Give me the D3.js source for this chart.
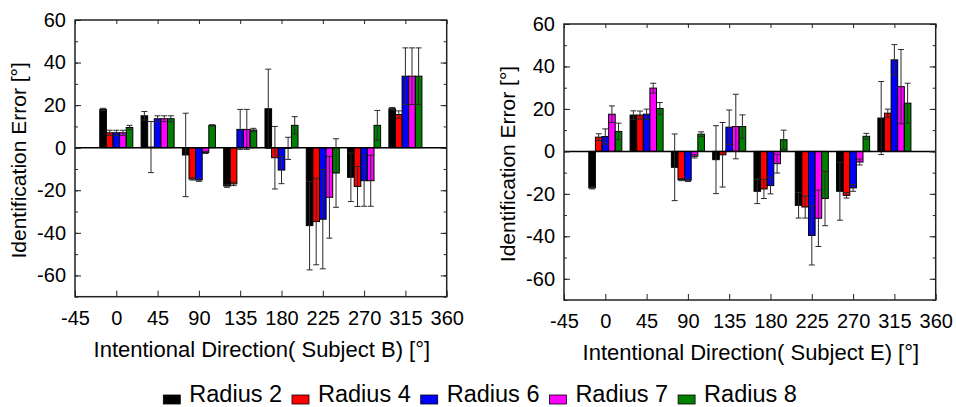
<!DOCTYPE html>
<html>
<head>
<meta charset="utf-8">
<script src="https://cdn.jsdelivr.net/npm/d3@7"></script>
<style>
  html, body { margin: 0; padding: 0; background: #fff; }
  svg { display: block; font-family: "Liberation Sans", Arial, sans-serif; }
</style>
</head>
<body>
<svg id="chart" width="956" height="407"></svg>
<script>
// Intentional directions (degrees) and series
const directions = [0, 45, 90, 135, 180, 225, 270, 315];
const seriesNames = ["Radius 2", "Radius 4", "Radius 6", "Radius 7", "Radius 8"];
const seriesColors = ["#000000", "#ff0000", "#0000ff", "#ff00ff", "#008000"];
const xTickValues = [-45, 0, 45, 90, 135, 180, 225, 270, 315, 360];
const yTickValues = [-60, -40, -20, 0, 20, 40, 60];

// Subject B: mean identification error and error-bar half widths
const bR2 = [18, 15, -3.4, -18, 18.3, -36.6, -13.9, 18.3];
const bR4 = [7, 0.3, -14.7, -17, -4.7, -34.7, -18.2, 15.6];
const bR6 = [7, 13.6, -15.2, 8.6, -10.5, -33.6, -15.5, 33.6];
const bR7 = [7, 13.6, -2.2, 8.6, -0.3, -23.3, -15.5, 33.6];
const bR8 = [9.5, 13.6, 10.5, 8.3, 10.5, -11.9, 10.5, 33.6];
const bR2err = [0.5, 2, 19.6, 0.6, 18.6, 20.8, 11.4, 0.6];
const bR4err = [1.2, 12, 0.5, 0.8, 14.7, 20.3, 9.4, 1.7];
const bR6err = [1.2, 1.4, 0.6, 9.4, 6.4, 23.3, 12, 13.3];
const bR7err = [1.2, 1.4, 0.5, 9.4, 5.2, 19.2, 12, 13.3];
const bR8err = [1, 1.4, 0.3, 0.8, 4.1, 16.1, 7, 13.3];

// Subject E
const eR2 = [-17.2, 17.1, -7.5, -3.9, -18.8, -25.4, -18.8, 15.7];
const eR4 = [6.7, 17.1, -13.3, -1.6, -17.7, -26.2, -20.7, 18];
const eR6 = [7, 17.5, -13.6, 11.4, -16.1, -39.6, -17.2, 43.1];
const eR7 = [17.5, 29.8, -2.3, 11.7, -5.8, -31.5, -5, 30.5];
const eR8 = [9.4, 20.2, 8.1, 11.7, 5.5, -22.2, 7.1, 22.7];
const eR2err = [0.5, 2, 15.7, 16, 5.8, 6, 13.6, 17.2];
const eR4err = [1.6, 1.9, 0.5, 15.2, 4.5, 5.2, 1.3, 1.9];
const eR6err = [3.6, 2.4, 0.6, 8.1, 3.9, 13.9, 1.6, 7.2];
const eR7err = [3.9, 2.3, 0.8, 15.2, 4.4, 13.3, 1.4, 17.5];
const eR8err = [3.9, 2.8, 1.1, 5.5, 4.5, 12.8, 1.4, 9.4];

const svg = d3.select("#chart");
const plainNumber = d => String(d);   // hyphen-minus, as on the original axes

function drawPanel(opts) {
  const { left, top, width, height, means, errs, xTitle } = opts;
  const g = svg.append("g").attr("transform", `translate(${left},${top})`);

  const x = d3.scaleLinear().domain([-45, 360]).range([0, width]);
  const y = d3.scaleLinear().domain([-70, 60]).range([height, 0]);

  const groupW = (x(45) - x(0)) * 0.8;
  const inner = d3.scaleBand().domain(d3.range(seriesNames.length))
    .range([-groupW / 2, groupW / 2]).padding(0);

  // bars
  means.forEach((vals, s) => {
    g.append("g").selectAll("rect").data(vals).join("rect")
      .attr("x", (d, i) => x(directions[i]) + inner(s))
      .attr("width", inner.bandwidth())
      .attr("y", d => Math.min(y(d), y(0)))
      .attr("height", d => Math.abs(y(d) - y(0)))
      .attr("fill", seriesColors[s])
      .attr("stroke", "#000")
      .attr("stroke-width", 1);
  });

  // error bars
  const capW = inner.bandwidth() * 0.9;
  means.forEach((vals, s) => {
    const eg = g.append("g").attr("stroke", "#2a2a2a").attr("stroke-width", 1).attr("fill", "none");
    vals.forEach((d, i) => {
      const cx = x(directions[i]) + inner(s) + inner.bandwidth() / 2;
      const e = errs[s][i];
      eg.append("line").attr("x1", cx).attr("x2", cx).attr("y1", y(d - e)).attr("y2", y(d + e));
      eg.append("line").attr("x1", cx - capW / 2).attr("x2", cx + capW / 2).attr("y1", y(d + e)).attr("y2", y(d + e));
      eg.append("line").attr("x1", cx - capW / 2).attr("x2", cx + capW / 2).attr("y1", y(d - e)).attr("y2", y(d - e));
    });
  });

  // zero line
  g.append("line").attr("x1", 0).attr("x2", width).attr("y1", y(0)).attr("y2", y(0))
    .attr("stroke", "#000").attr("stroke-width", 1.5);

  // axes with inward ticks on all four sides
  const yMinor = d3.range(-70, 61, 10);
  const axisStyle = sel => {
    sel.select(".domain").remove();
    sel.selectAll(".tick line").attr("stroke", "#222").attr("stroke-width", 1);
  };
  const labelStyle = a => a.selectAll("text").attr("font-size", 20).attr("fill", "#000")
    .attr("font-family", "Liberation Sans, Arial, sans-serif");
  g.append("g").call(d3.axisLeft(y).tickValues(yMinor).tickSize(-3).tickFormat(""))
    .call(axisStyle);
  g.append("g").attr("transform", `translate(${width},0)`)
    .call(d3.axisRight(y).tickValues(yMinor).tickSize(-3).tickFormat("")).call(axisStyle);
  g.append("g").call(d3.axisLeft(y).tickValues(yTickValues).tickSize(-6).tickPadding(9)
      .tickFormat(plainNumber))
    .call(axisStyle).call(labelStyle);
  g.append("g").attr("transform", `translate(${width},0)`)
    .call(d3.axisRight(y).tickValues(yTickValues).tickSize(-6).tickFormat("")).call(axisStyle);
  g.append("g").attr("transform", `translate(0,${height})`)
    .call(d3.axisBottom(x).tickValues(xTickValues).tickSize(-6).tickPadding(14)
      .tickFormat(plainNumber))
    .call(axisStyle).call(labelStyle);
  g.append("g")
    .call(d3.axisTop(x).tickValues(xTickValues).tickSize(-4).tickFormat("")).call(axisStyle);

  // frame
  g.append("rect").attr("x", 0).attr("y", 0).attr("width", width).attr("height", height)
    .attr("fill", "none").attr("stroke", "#222").attr("stroke-width", 1.5);

  // titles
  g.append("text")
    .attr("x", width / 2 + 1).attr("y", height + 60)
    .attr("text-anchor", "middle").attr("font-size", 22).attr("fill", "#000")
    .text(xTitle);
  g.append("text")
    .attr("transform", `translate(-49.5,${height / 2 + 2}) rotate(-90)`)
    .attr("text-anchor", "middle").attr("font-size", 21).attr("fill", "#000")
    .text("Identification Error [°]");
}

drawPanel({
  left: 75, top: 20, width: 371.7, height: 276.7,
  means: [bR2, bR4, bR6, bR7, bR8],
  errs: [bR2err, bR4err, bR6err, bR7err, bR8err],
  xTitle: "Intentional Direction( Subject B) [°]"
});
drawPanel({
  left: 564, top: 24, width: 371.7, height: 276,
  means: [eR2, eR4, eR6, eR7, eR8],
  errs: [eR2err, eR4err, eR6err, eR7err, eR8err],
  xTitle: "Intentional Direction( Subject E) [°]"
});

// legend
const legend = svg.append("g").attr("transform", "translate(163.3,0)");
const item = legend.selectAll("g").data(seriesNames).join("g")
  .attr("transform", (d, i) => `translate(${i * 128.7},0)`);
item.append("rect").attr("x", 0).attr("y", 395).attr("width", 17).attr("height", 9)
  .attr("fill", (d, i) => seriesColors[i]).attr("stroke", "#000").attr("stroke-width", 0.8);
item.append("text").attr("x", 26).attr("y", 402).attr("font-size", 23.5).attr("fill", "#000")
  .text(d => d);
</script>
</body>
</html>
